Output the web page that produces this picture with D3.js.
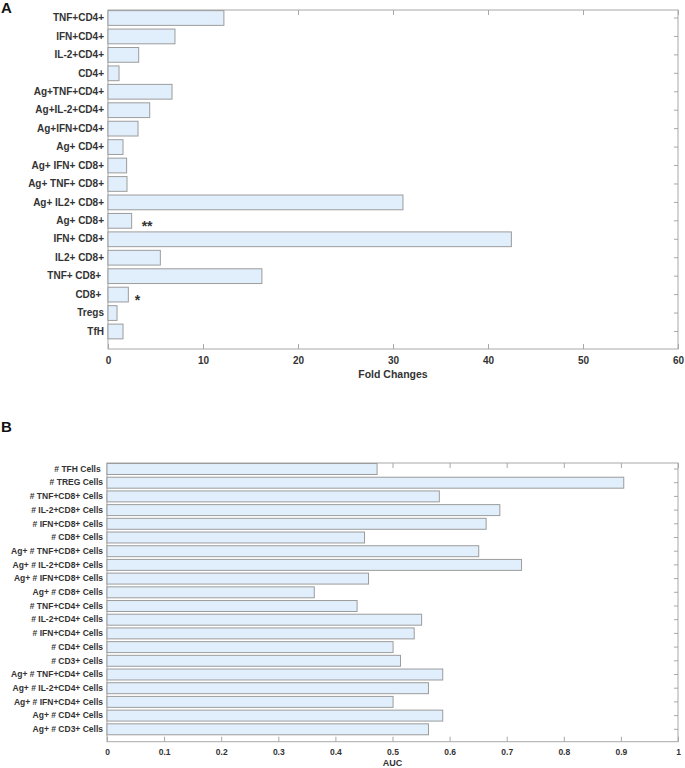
<!DOCTYPE html>
<html>
<head>
<meta charset="utf-8">
<script src="https://cdn.jsdelivr.net/npm/d3@7"></script>
<style>
  html, body { margin: 0; padding: 0; background: #fff; }
  svg text { font-family: "Liberation Sans", Arial, sans-serif; font-weight: bold; fill: #333; }
</style>
</head>
<body>
<svg id="chart" width="685" height="768"></svg>
<script>
// Panel A data (top to bottom)
const catsA = ["TNF+CD4+", "IFN+CD4+", "IL-2+CD4+", "CD4+", "Ag+TNF+CD4+", "Ag+IL-2+CD4+",
  "Ag+IFN+CD4+", "Ag+ CD4+", "Ag+ IFN+ CD8+", "Ag+ TNF+ CD8+", "Ag+ IL2+ CD8+", "Ag+ CD8+",
  "IFN+ CD8+", "IL2+ CD8+", "TNF+ CD8+ ", "CD8+ ", "Tregs", "TfH"];
const valsA = [12.2, 7.05, 3.23, 1.16, 6.74, 4.39, 3.16, 1.58, 1.96, 2.0, 31.05, 2.49,
  42.46, 5.51, 16.2, 2.14, 0.95, 1.58];
const starsA = ["", "", "", "", "", "", "", "", "", "", "", "**", "", "", "", "*", "", ""];
const ticksA = [0, 10, 20, 30, 40, 50, 60];

// Panel B data (top to bottom)
const catsB = ["# TFH Cells ", "# TREG Cells", "# TNF+CD8+ Cells", "# IL-2+CD8+ Cells",
  "# IFN+CD8+ Cells", "# CD8+ Cells", "Ag+ # TNF+CD8+ Cells", "Ag+ # IL-2+CD8+ Cells",
  "Ag+ # IFN+CD8+ Cells", "Ag+ # CD8+ Cells", "# TNF+CD4+ Cells", "# IL-2+CD4+ Cells",
  "# IFN+CD4+ Cells", "# CD4+ Cells", "# CD3+ Cells", "Ag+ # TNF+CD4+ Cells",
  "Ag+ # IL-2+CD4+ Cells", "Ag+ # IFN+CD4+ Cells", "Ag+ # CD4+ Cells", "Ag+ # CD3+ Cells"];
const valsB = [0.473, 0.905, 0.582, 0.688, 0.664, 0.451, 0.651, 0.726, 0.458, 0.363,
  0.438, 0.551, 0.538, 0.501, 0.514, 0.588, 0.563, 0.501, 0.588, 0.563];
const ticksB = [0, 0.1, 0.2, 0.3, 0.4, 0.5, 0.6, 0.7, 0.8, 0.9, 1];

const svg = d3.select("#chart");
const AX = "#a8a8a8", BAR_FILL = "#e1effc", BAR_STROKE = "#9c9c9c";

function panel(cfg) {
  const g = svg.append("g");
  const x = d3.scaleLinear().domain(cfg.xDomain).range([cfg.left, cfg.right]);
  const y = d3.scaleBand().domain(cfg.cats)
    .range([cfg.bandStart, cfg.bandStart + cfg.step * cfg.cats.length])
    .paddingInner(0.2).paddingOuter(0.1);

  // box
  g.append("rect").attr("x", cfg.left).attr("y", cfg.top)
    .attr("width", cfg.right - cfg.left).attr("height", cfg.bottom - cfg.top)
    .attr("fill", "none").attr("stroke", AX).attr("stroke-width", 1);

  // bottom axis (ticks inward)
  const bot = g.append("g").attr("transform", `translate(0,${cfg.bottom})`)
    .call(d3.axisBottom(x).tickValues(cfg.ticks).tickFormat(d3.format("~g"))
      .tickSizeInner(-5).tickSizeOuter(0).tickPadding(cfg.tickPad));
  bot.select(".domain").remove();
  bot.selectAll("line").attr("stroke", AX);
  bot.selectAll("text").attr("font-size", cfg.tickFont).style("fill", "#333");

  // top axis ticks
  const topAx = g.append("g").attr("transform", `translate(0,${cfg.top})`)
    .call(d3.axisTop(x).tickValues(cfg.ticks).tickFormat("").tickSizeInner(-5).tickSizeOuter(0));
  topAx.select(".domain").remove();
  topAx.selectAll("line").attr("stroke", AX);

  // right axis ticks
  const rightAx = g.append("g").attr("transform", `translate(${cfg.right},0)`)
    .call(d3.axisRight(y).tickFormat("").tickSizeInner(-4).tickSizeOuter(0));
  rightAx.select(".domain").remove();
  rightAx.selectAll("line").attr("stroke", AX);

  // left labels
  const leftAx = g.append("g").attr("transform", `translate(${cfg.left},0)`)
    .call(d3.axisLeft(y).tickSizeInner(0).tickSizeOuter(0).tickPadding(cfg.labelPad));
  leftAx.select(".domain").remove();
  leftAx.selectAll("line").remove();
  leftAx.selectAll("text").attr("font-size", cfg.labelFont).style("white-space", "pre").style("fill", "#333");

  // bars
  g.selectAll("rect.bar").data(cfg.cats).enter().append("rect")
    .attr("class", "bar")
    .attr("x", x(0))
    .attr("y", d => y(d))
    .attr("width", (d, i) => x(cfg.vals[i]) - x(0))
    .attr("height", y.bandwidth())
    .attr("fill", BAR_FILL).attr("stroke", BAR_STROKE).attr("stroke-width", 1);

  // stars
  if (cfg.stars) {
    g.selectAll("text.star").data(cfg.cats).enter().append("text")
      .attr("class", "star")
      .attr("x", (d, i) => x(cfg.vals[i]) + (cfg.stars[i] === "**" ? 10 : 6.5))
      .attr("y", d => y(d) + y.bandwidth() / 2 + 10)
      .attr("font-size", 14)
      .text((d, i) => cfg.stars[i]);
  }

  // axis label
  g.append("text").attr("x", (cfg.left + cfg.right) / 2).attr("y", cfg.xLabelY)
    .attr("text-anchor", "middle").attr("font-size", cfg.xLabelFont).text(cfg.xLabel);

  // panel letter
  g.append("text").attr("x", 1).attr("y", cfg.letterY)
    .attr("font-size", 15).style("fill", "#111").text(cfg.letter);
}

panel({
  cats: catsA, vals: valsA, stars: starsA, ticks: ticksA, xDomain: [0, 60],
  left: 108, right: 678, top: 10, bottom: 349,
  bandStart: 8.78, step: 18.44,
  tickPad: 8, tickFont: 10, labelFont: 10, labelPad: 4,
  xLabel: "Fold Changes", xLabelY: 378, xLabelFont: 10.5,
  letter: "A", letterY: 13
});

panel({
  cats: catsB, vals: valsB, stars: null, ticks: ticksB, xDomain: [0, 1],
  left: 107, right: 678, top: 463, bottom: 741.7,
  bandStart: 462.15, step: 13.7,
  tickPad: 7, tickFont: 8.5, labelFont: 8.5, labelPad: 4,
  xLabel: "AUC", xLabelY: 765.5, xLabelFont: 9,
  letter: "B", letterY: 432
});
</script>
</body>
</html>
